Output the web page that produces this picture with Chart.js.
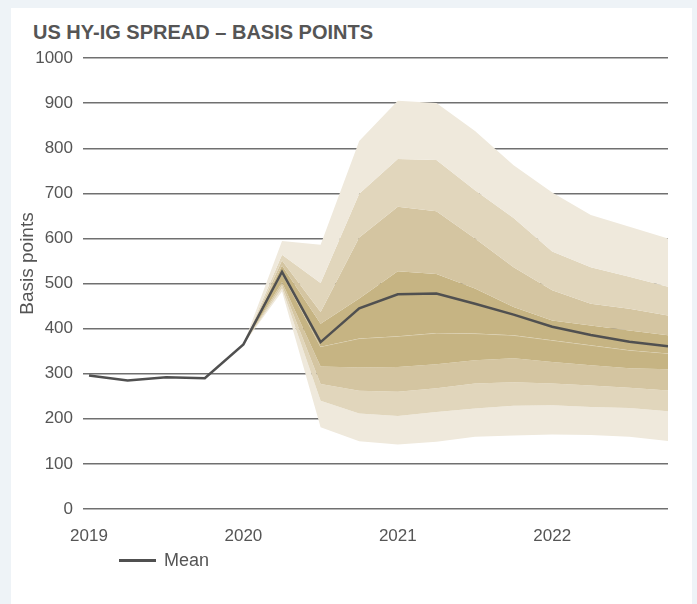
<!DOCTYPE html>
<html>
<head>
<meta charset="utf-8">
<script src="https://cdn.jsdelivr.net/npm/chart.js@4.4.1/dist/chart.umd.min.js"></script>
<style>
  html, body { margin: 0; padding: 0; }
  body { width: 697px; height: 604px; background: #eef3f7; position: relative; overflow: hidden;
         font-family: "Liberation Sans", Arial, sans-serif; color: #555; }
  .card { position: absolute; left: 11px; top: 8px; width: 681px; height: 596px; background: #fff; }
  .title { position: absolute; left: 33px; top: 22px; font-size: 20px; line-height: 20px; font-weight: bold; color: #555; white-space: nowrap; }
  #chart { position: absolute; left: 0; top: 0; }
  .legend { position: absolute; left: 119px; top: 549px; height: 22px; display: flex; align-items: center; font-size: 18px; }
  .legend .swatch { width: 37px; height: 3px; background: #505050; margin-right: 8px; }
</style>
</head>
<body>
<div class="card"></div>
<div class="title">US HY-IG SPREAD – BASIS POINTS</div>
<canvas id="chart" width="697" height="604"></canvas>
<div class="legend"><span class="swatch"></span><span>Mean</span></div>
<script>
'use strict';

/* 四半期（2019 Q1 〜 2022 Q4） */
const quarters = [
  '2019 Q1', '2019 Q2', '2019 Q3', '2019 Q4',
  '2020 Q1', '2020 Q2', '2020 Q3', '2020 Q4',
  '2021 Q1', '2021 Q2', '2021 Q3', '2021 Q4',
  '2022 Q1', '2022 Q2', '2022 Q3', '2022 Q4',
];
const yearLabels = ['2019', '2020', '2021', '2022'];
const yTicks = [0, 100, 200, 300, 400, 500, 600, 700, 800, 900, 1000];

/* 平均値 */
const meanSpread = [296, 285, 292, 290, 365, 526, 370, 445, 476, 478, 455, 431, 404, 386, 371, 361];

/* ファンチャートの各帯の境界（上から順に） */
const outerUpper = [null, null, null, null, 365, 594, 586, 816, 905, 900, 838, 762, 702, 652, 626, 600];
const midUpper   = [null, null, null, null, 365, 564, 501, 699, 776, 774, 707, 645, 571, 536, 515, 493];
const lightUpper = [null, null, null, null, 365, 551, 437, 602, 670, 660, 600, 536, 485, 455, 444, 429];
const coreUpper  = [null, null, null, null, 365, 540, 411, 467, 527, 521, 489, 448, 418, 407, 396, 385];
const median     = [null, null, null, null, 365, 522, 360, 378, 383, 390, 389, 385, 374, 363, 352, 345];
const coreLower  = [null, null, null, null, 365, 503, 316, 314, 315, 321, 330, 334, 326, 319, 312, 310];
const lightLower = [null, null, null, null, 365, 496, 277, 262, 260, 268, 278, 281, 278, 274, 269, 263];
const midLower   = [null, null, null, null, 365, 489, 240, 212, 206, 215, 223, 229, 230, 226, 224, 217];
const outerLower = [null, null, null, null, 365, 482, 181, 150, 143, 149, 160, 163, 165, 164, 160, 151];

const COLOR_OUTER = '#efe9dc';
const COLOR_MID = '#e1d6bc';
const COLOR_LIGHT = '#d4c5a1';
const COLOR_CORE = '#c6b483';
const COLOR_MEAN = '#505050';
const COLOR_TEXT = '#555555';
const FONT = '"Liberation Sans", Arial, sans-serif';

const pts = (arr) => arr.map((v, i) => ({ x: i, y: v }));

function band(label, values, fillColor) {
  return {
    label,
    data: pts(values),
    borderWidth: 0,
    borderColor: 'rgba(0,0,0,0)',
    backgroundColor: fillColor,
    fill: fillColor ? '+1' : false,
    pointRadius: 0,
    tension: 0,
    order: 1,
  };
}

/* y軸タイトル（縦書き）— 元図に合わせて少し上寄せで描く */
const yTitlePlugin = {
  id: 'yTitle',
  afterDraw(chart) {
    const { ctx, chartArea } = chart;
    ctx.save();
    ctx.translate(28, (chartArea.top + chartArea.bottom) / 2 - 20);
    ctx.rotate(-Math.PI / 2);
    ctx.font = `19px ${FONT}`;
    ctx.fillStyle = COLOR_TEXT;
    ctx.textAlign = 'center';
    ctx.textBaseline = 'middle';
    ctx.fillText('Basis points', 0, 0);
    ctx.restore();
  },
};

const medianSet = band('Median', median, COLOR_CORE);
medianSet.borderWidth = 1;
medianSet.borderColor = 'rgba(255,255,255,0.35)';

new Chart(document.getElementById('chart'), {
  type: 'line',
  data: {
    datasets: [
      {
        label: 'Mean',
        data: pts(meanSpread),
        borderColor: COLOR_MEAN,
        borderWidth: 2.5,
        pointRadius: 0,
        fill: false,
        tension: 0,
        order: 0,
      },
      band('Outer upper', outerUpper, COLOR_OUTER),
      band('Mid upper', midUpper, COLOR_MID),
      band('Light upper', lightUpper, COLOR_LIGHT),
      band('Core upper', coreUpper, COLOR_CORE),
      medianSet,
      band('Core lower', coreLower, COLOR_LIGHT),
      band('Light lower', lightLower, COLOR_MID),
      band('Mid lower', midLower, COLOR_OUTER),
      band('Outer lower', outerLower, null),
    ],
  },
  options: {
    responsive: false,
    animation: false,
    events: [],
    layout: { padding: { top: 58, right: 29, bottom: 0, left: 0 } },
    plugins: {
      legend: { display: false },
      tooltip: { enabled: false },
    },
    scales: {
      x: {
        type: 'linear',
        min: -0.156,
        max: quarters.length - 1,
        afterBuildTicks: (scale) => {
          scale.ticks = quarters
            .map((q, i) => ({ q, i }))
            .filter((o) => o.q.endsWith('Q1'))
            .map((o) => ({ value: o.i }));
        },
        afterFit: (scale) => { scale.height = 95; },
        ticks: {
          autoSkip: false,
          maxRotation: 0,
          padding: 17,
          color: COLOR_TEXT,
          font: { family: FONT, size: 17 },
          callback: (v) => yearLabels[yearLabels.indexOf(quarters[v].slice(0, 4))],
        },
        grid: { display: false, drawTicks: false },
        border: { display: false },
      },
      y: {
        min: 0,
        max: 1000,
        afterBuildTicks: (scale) => { scale.ticks = yTicks.map((v) => ({ value: v })); },
        afterFit: (scale) => { scale.width = 83; },
        ticks: {
          padding: 10,
          color: COLOR_TEXT,
          font: { family: FONT, size: 17 },
          callback: (v) => String(v),
        },
        grid: { color: '#707070', lineWidth: 1.4, drawTicks: false },
        border: { display: false },
      },
    },
  },
  plugins: [yTitlePlugin],
});
</script>
</body>
</html>
